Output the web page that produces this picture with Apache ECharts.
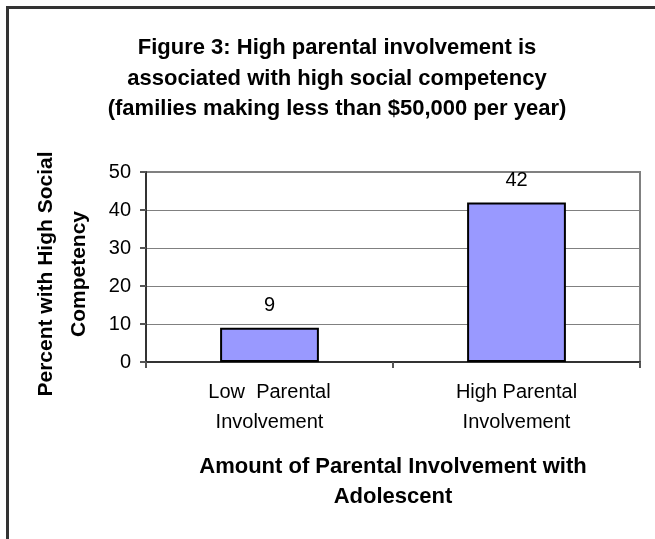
<!DOCTYPE html>
<html>
<head>
<meta charset="utf-8">
<script src="https://cdn.jsdelivr.net/npm/echarts@6/dist/echarts.min.js"></script>
<style>
  html, body { margin: 0; padding: 0; background: #fff; }
  #chart { width: 655px; height: 539px; }
</style>
</head>
<body>
<div id="chart"></div>
<script>
// Involvement groups and the share of adolescents with high social competency
const categories = ['Low  Parental\nInvolvement', 'High Parental\nInvolvement'];
const percentHighCompetency = [9, 42];
const yTicks = { min: 0, max: 50, interval: 10 };

const titleText = 'Figure 3: High parental involvement is\nassociated with high social competency\n(families making less than $50,000 per year)';
const yName = 'Percent with High Social\nCompetency';
const xName = 'Amount of Parental Involvement with\nAdolescent';

const FONT = '"Liberation Sans", Arial, sans-serif';

const chart = echarts.init(document.getElementById('chart'), null, { renderer: 'canvas' });

chart.setOption({
  animation: false,
  backgroundColor: '#ffffff',
  title: {
    text: titleText,
    left: 332,
    textAlign: 'center',
    top: 28,
    textStyle: {
      fontFamily: FONT,
      fontWeight: 'bold',
      fontSize: 22,
      lineHeight: 30.5,
      color: '#000'
    }
  },
  graphic: [
    {
      type: 'polyline',
      shape: { points: [[7.5, 539], [7.5, 7.5], [655, 7.5]] },
      style: { stroke: '#333', lineWidth: 3, fill: null }
    }
  ],
  grid: {
    left: 146,
    top: 172,
    right: 15,
    bottom: 177,
    show: true,
    borderColor: '#808080',
    borderWidth: 2,
    backgroundColor: '#fff'
  },
  xAxis: {
    type: 'category',
    data: categories,
    boundaryGap: true,
    axisLine: { show: true, lineStyle: { color: '#333', width: 2 } },
    axisTick: { show: true, length: 6, inside: false, lineStyle: { color: '#555', width: 2 } },
    axisLabel: {
      margin: 15,
      fontFamily: FONT,
      fontSize: 20,
      lineHeight: 30,
      color: '#000'
    },
    name: xName,
    nameLocation: 'middle',
    nameGap: 90,
    nameTextStyle: {
      fontFamily: FONT,
      fontWeight: 'bold',
      fontSize: 22,
      lineHeight: 30,
      color: '#000'
    }
  },
  yAxis: {
    type: 'value',
    min: yTicks.min,
    max: yTicks.max,
    interval: yTicks.interval,
    axisLine: { show: true, lineStyle: { color: '#333', width: 2 } },
    axisTick: { show: true, length: 6, lineStyle: { color: '#555', width: 2 } },
    axisLabel: {
      margin: 15,
      fontFamily: FONT,
      fontSize: 20,
      color: '#000'
    },
    splitLine: { show: true, lineStyle: { color: '#808080', width: 1 } },
    name: yName,
    nameLocation: 'middle',
    nameRotate: 90,
    nameGap: 50,
    nameTextStyle: {
      fontFamily: FONT,
      fontWeight: 'bold',
      fontSize: 21,
      lineHeight: 33,
      padding: [0, 14, 0, 0],
      color: '#000'
    }
  },
  series: [
    {
      type: 'bar',
      data: percentHighCompetency,
      barWidth: '40%',
      itemStyle: { color: '#9999FF', borderColor: '#000', borderWidth: 2 },
      label: {
        show: true,
        position: 'top',
        distance: 12,
        fontFamily: FONT,
        fontSize: 20,
        color: '#000'
      }
    }
  ]
});
</script>
</body>
</html>
